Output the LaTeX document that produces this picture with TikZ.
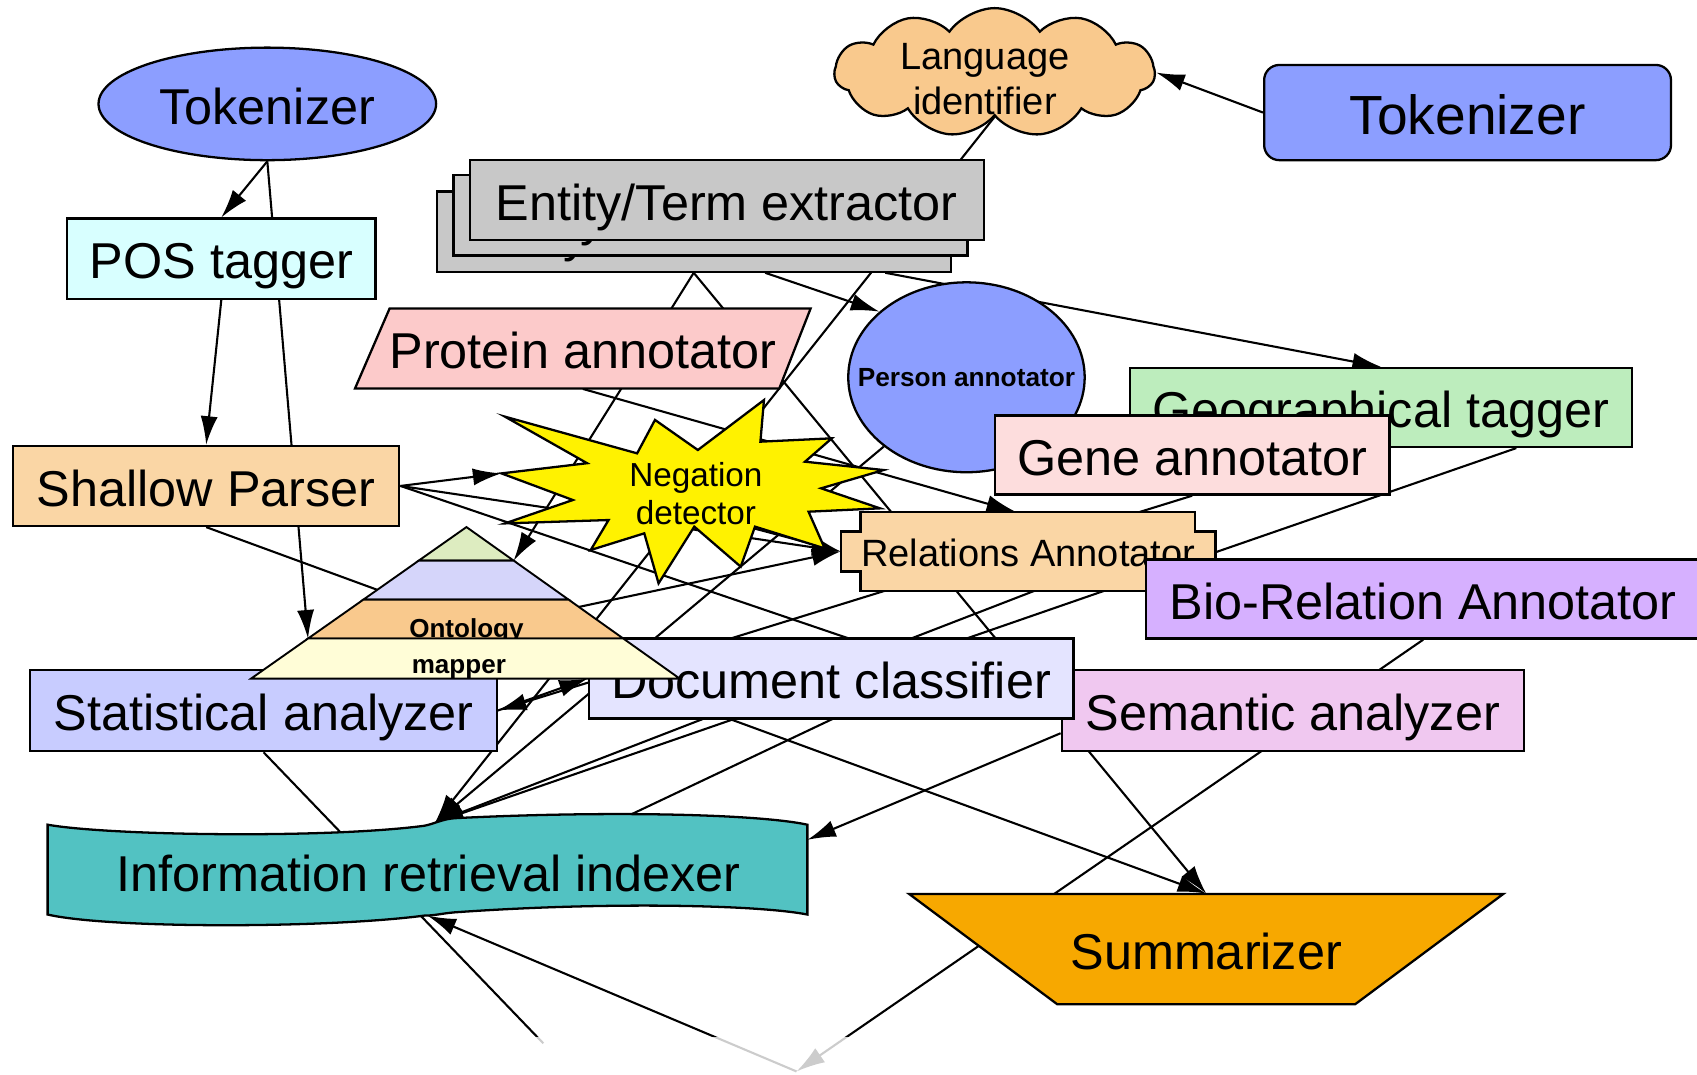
\documentclass[tikz,border=0pt]{standalone}
\usepackage{fontspec}
\setmainfont{Liberation Sans}
\usetikzlibrary{arrows.meta,calc,shapes.geometric,shapes.symbols,backgrounds}
\definecolor{tokblue}{RGB}{140,158,255}
\definecolor{langorange}{RGB}{249,201,141}
\definecolor{entgray}{RGB}{200,200,200}
\definecolor{poscyan}{RGB}{216,255,255}
\definecolor{protpink}{RGB}{252,202,202}
\definecolor{geogreen}{RGB}{189,237,189}
\definecolor{genepink}{RGB}{253,221,221}
\definecolor{spbeige}{RGB}{250,214,165}
\definecolor{biopurple}{RGB}{214,176,255}
\definecolor{statblue}{RGB}{200,204,255}
\definecolor{doclav}{RGB}{228,228,255}
\definecolor{semmag}{RGB}{240,200,240}
\definecolor{irteal}{RGB}{82,194,194}
\definecolor{summorange}{RGB}{247,168,0}
\definecolor{ontogreen}{RGB}{221,236,192}
\definecolor{ontolav}{RGB}{213,213,250}
\definecolor{ontoyellow}{RGB}{255,253,215}
\begin{document}
\begin{tikzpicture}[x=0.02cm,y=-0.02cm,>={Latex[length=15pt,width=9pt]},
  every node/.style={font=\fontsize{26.5}{30}\selectfont},
  box/.style={draw,line width=1.2pt,inner sep=0pt,text height=21.2pt,text depth=0pt},
  shp/.style={draw,line width=1.2pt},
  link/.style={line width=1.1pt}]
\useasboundingbox (0,0) rectangle (1568,993);

% left column
\node[box,ellipse,fill=tokblue,minimum width=6.24cm,minimum height=2.08cm] (tokl) at (247,96) {Tokenizer};
\node[box,fill=poscyan,minimum width=5.7cm,minimum height=1.48cm] (pos) at (204.5,239) {POS tagger};
\node[box,fill=spbeige,minimum width=7.14cm,minimum height=1.48cm] (sp) at (190.5,449) {Shallow Parser};

% top row
\node[shp,cloud,cloud puffs=11,cloud puff arc=110,fill=langorange,minimum width=5.92cm,minimum height=2.38cm,inner sep=0pt] (lang) at (919,67) {};
\node[align=center,font=\fontsize{20}{24}\selectfont] (langtext) at (910,73) {Language\\identifier};
\node[box,rounded corners=8pt,fill=tokblue,minimum width=7.52cm,minimum height=1.76cm,font=\fontsize{29}{33}\selectfont,text height=22.8pt] (tokr) at (1356,104) {Tokenizer};

% entity stack
\foreach \n/\x/\y in {entc/641/214,entb/656.5/199,ent/671.5/185}
  \node[box,fill=entgray,minimum width=9.5cm,minimum height=1.48cm] (\n) at (\x,\y) {Entity/Term extractor};

% protein
\filldraw[shp,fill=protpink] (360,285) -- (749,285) -- (720,359) -- (328,359) -- cycle;
\node[inner sep=0pt,minimum height=1.48cm,text height=21.2pt,text depth=0pt] (prot) at (538.5,322) {Protein annotator};

% person, geo, gene
\node[shp,ellipse,fill=tokblue,minimum width=4.37cm,minimum height=3.51cm,inner sep=0pt,
  label={[font=\fontsize{13.8}{16}\selectfont\bfseries]center:Person annotator}] (person) at (893,348.6) {};
\node[box,fill=geogreen,minimum width=9.28cm,minimum height=1.46cm] (geo) at (1276,376.5) {Geographical tagger};
\node[box,fill=genepink,minimum width=7.3cm,minimum height=1.46cm] (gene) at (1101.5,420.5) {Gene annotator};

% negation star
\filldraw[shp,fill=yellow] (466.6,385) -- (542.5,428) -- (463.3,437.4) -- (529.3,462) -- (466.6,483.6)
  -- (562.3,480.5) -- (545.8,508.2) -- (595.3,492.8) -- (608.5,539) -- (641.5,486.6) -- (684.4,523.6)
  -- (697.6,486.6) -- (762,506.7) -- (747.1,472.8) -- (813.1,469.7) -- (758.7,451.2) -- (816.4,434.3)
  -- (743.8,426.6) -- (768.6,405) -- (702.6,408.1) -- (705.9,369.6) -- (644.8,415.8) -- (605.2,388)
  -- (588.7,418.9) -- cycle;
\node[align=center,font=\fontsize{17.5}{20}\selectfont] (neg) at (643,456) {Negation\\detector};
\coordinate (neg-w) at (463.3,437.4);

% relations
\filldraw[shp,fill=spbeige] (795,473) -- (1104,473) -- (1104,491) -- (1123,491) -- (1123,528) -- (1104,528)
  -- (1104,546) -- (795,546) -- (795,528) -- (777,528) -- (777,491) -- (795,491) -- cycle;
\node[inner sep=0pt,minimum width=6.92cm,minimum height=1.46cm,font=\fontsize{20}{24}\selectfont,text height=15.4pt,text depth=0pt] (rel) at (950,509.5) {Relations Annotator};
\node[box,fill=biopurple,minimum width=10.24cm,minimum height=1.46cm] (bio) at (1315,553.5) {Bio-Relation Annotator};

% lower row
\node[box,fill=statblue,minimum width=8.62cm,minimum height=1.5cm] (stat) at (243.5,656.5) {Statistical analyzer};
\node[box,fill=semmag,minimum width=8.54cm,minimum height=1.5cm] (sem) at (1194.5,656.5) {Semantic analyzer};
\node[box,fill=doclav,minimum width=8.96cm,minimum height=1.48cm] (doc) at (768,627) {Document classifier};

% ontology pyramid
\filldraw[shp,line width=1pt,fill=ontogreen] (431,487) -- (474.6,518) -- (386.9,518) -- cycle;
\filldraw[shp,line width=1pt,fill=ontolav] (386.9,518) -- (474.6,518) -- (525.3,554) -- (335.8,554) -- cycle;
\filldraw[shp,line width=1pt,fill=langorange] (335.8,554) -- (525.3,554) -- (575.9,590) -- (284.6,590) -- cycle;
\node[font=\fontsize{13.7}{16}\selectfont\bfseries,anchor=base] (onto) at (431,589) {Ontology};
\filldraw[shp,line width=1pt,fill=ontoyellow] (284.6,590) -- (575.9,590) -- (628,627) -- (232,627) -- cycle;
\begin{scope}
\clip (284.6,590) -- (575.9,590) -- (628,627) -- (232,627) -- cycle;
\node[font=\fontsize{13.7}{16}\selectfont\bfseries,anchor=base] (ontotext) at (424,622) {mapper};
\end{scope}
\coordinate (onto-w) at (284.6,590);
\coordinate (onto-ne) at (474.6,518);

% indexer banner
\filldraw[shp,fill=irteal] (44,762) .. controls (100,772) and (300,775) .. (392,763)
  .. controls (402,761) and (408,757) .. (420,756) .. controls (560,749) and (700,752) .. (746,762)
  -- (746,845) .. controls (700,836) and (560,833) .. (420,843) .. controls (408,844) and (402,846) .. (392,846)
  .. controls (300,858) and (100,858) .. (44,845) -- cycle;
\node[text height=21.2pt,text depth=0pt] (ir) at (396,805) {Information retrieval indexer};
\coordinate (ir-n) at (402,760);
\coordinate (ir-e) at (746,776);
\coordinate (ir-s) at (395,846);

% summarizer
\filldraw[shp,fill=summorange] (840,826) -- (1389,826) -- (1252,928) -- (977,928) -- cycle;
\node[inner sep=0pt,minimum height=2.04cm,text height=21.2pt,text depth=0pt] (summ) at (1114.5,877) {Summarizer};

\coordinate (out1) at (736,990);
\coordinate (out2) at (502,964);

% connectors, behind the boxes
\begin{pgfonlayer}{background}
\begin{scope}[link]
\draw[->] (tokl.south) -- (pos.north);
\draw[->] (tokl.south) -- (onto-w);
\draw[->] (pos.south) -- (sp.north);
\draw[->] (tokr.west) -- (lang.east);
\draw[->] (lang.south) -- (ir-n);
\draw[->] ($(entc.south)+(66,0)$) -- (person.143);
\draw[->] ($(entc.south)+(177,0)$) -- (geo.north);
\draw[->] (entc.south) -- (onto-ne);
\draw[->] (entc.south) -- (summ.north);
\draw[->] (sp.east) -- (neg-w);
\draw[->] (sp.east) -- (rel.west);
\draw[->] (sp.east) -- (sem.west);
\draw[->] (sp.south) -- (summ.north);
\draw[->] (prot.south) -- ($(rel.north)+(-12,0)$);
\draw[->] (person) -- (ir-n);
\draw[->] ($(geo.south)+(125,0)$) -- (ir-n);
\draw[->] ($(rel.center)+(100,0)$) -- (ir-n);
\draw[->] (gene.south) -- (stat.east);
\draw[->] (stat.east) -- (doc.west);
\draw[->] (onto) -- (rel.west);
\draw[->] ($(neg)+(0,18)$) -- (rel.west);
\draw[->] ($(sem.west)+(0,21)$) -- (ir-e);
\draw ($(doc.center)+(80,0)$) -- ($(ir.center)+(165,-42)$);
\draw (stat.south) -- (out2);
\draw[->] (bio.south) -- (out1);
\draw[->] (out1) -- (ir-s);
\end{scope}
\end{pgfonlayer}

% faded bottom strip
\fill[white,opacity=0.8] (0,958) rectangle (1568,993);
\end{tikzpicture}
\end{document}
